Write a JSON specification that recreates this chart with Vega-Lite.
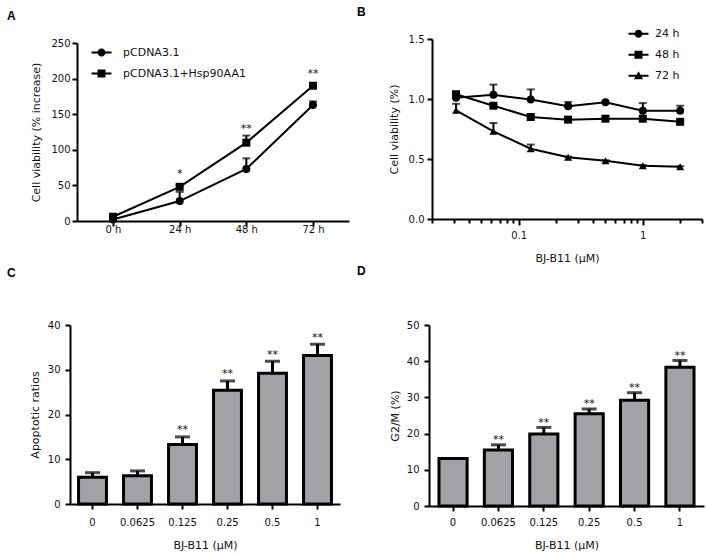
{
  "$schema": "https://vega.github.io/schema/vega-lite/v6.json",
  "background": "white",
  "padding": {"left": 7, "top": 6, "right": 2, "bottom": 2},
  "config": {
    "font": "DejaVu Sans",
    "view": {"stroke": null},
    "axis": {
      "domainColor": "black", "domainWidth": 2, "tickColor": "black", "tickWidth": 2, "tickSize": 5,
      "labelFont": "DejaVu Sans", "labelFontSize": 10, "labelColor": "#111111",
      "titleFont": "DejaVu Sans", "titleFontSize": 11, "titleFontWeight": "normal", "titleColor": "#111111",
      "grid": false
    },
    "title": {"anchor": "start", "frame": "group", "fontSize": 12, "fontWeight": "bold", "color": "black", "baseline": "alphabetic", "font": "Liberation Sans"},
    "legend": {"padding": 0, "labelFont": "DejaVu Sans", "labelFontSize": 11, "labelColor": "#111111", "symbolStrokeWidth": 0, "symbolOpacity": 1}
  },
  "bounds": "flush",
  "columns": 2,
  "spacing": {"row": 104, "column": 80},
  "concat": [
    {
      "width": 279, "height": 182,
      "title": {"text": "A", "dx": -63, "offset": 15},
      "data": {"values": [
        {"hours": 0, "series": "pCDNA3.1", "value": 2, "err": 3},
        {"hours": 24, "series": "pCDNA3.1", "value": 28, "err": 41},
        {"hours": 48, "series": "pCDNA3.1", "value": 73, "err": 88},
        {"hours": 72, "series": "pCDNA3.1", "value": 163, "err": 168},
        {"hours": 0, "series": "pCDNA3.1+Hsp90AA1", "value": 6, "err": 9},
        {"hours": 24, "series": "pCDNA3.1+Hsp90AA1", "value": 48, "err": 50},
        {"hours": 48, "series": "pCDNA3.1+Hsp90AA1", "value": 110, "err": 120},
        {"hours": 72, "series": "pCDNA3.1+Hsp90AA1", "value": 190, "err": 193}
      ]},
      "encoding": {
        "x": {"field": "hours", "type": "quantitative", "scale": {"domain": [-12.96, 84.96], "range": [7, 279], "nice": false, "zero": false},
              "axis": {"title": null, "values": [0, 24, 48, 72], "labelExpr": "datum.value + ' h'", "labelAngle": 0, "labelPadding": -1.5, "labelFlush": false, "labelOverlap": false}},
        "y": {"field": "value", "type": "quantitative", "scale": {"domain": [0, 250], "range": [182, 4], "nice": false},
              "axis": {"title": "Cell viability (% increase)", "values": [0, 50, 100, 150, 200, 250], "offset": -7, "labelPadding": 2, "titlePadding": 9}}
      },
      "layer": [
        {"mark": {"type": "line", "color": "black", "strokeWidth": 2}, "encoding": {"detail": {"field": "series"}}},
        {"mark": {"type": "rule", "color": "black", "strokeWidth": 2}, "encoding": {"y2": {"field": "err"}}},
        {"mark": {"type": "tick", "color": "black", "thickness": 2, "size": 8, "orient": "horizontal"}, "encoding": {"y": {"field": "err", "type": "quantitative"}}},
        {"mark": {"type": "point", "filled": true, "color": "black", "opacity": 1, "size": 64},
         "encoding": {"shape": {"field": "series", "type": "nominal", "scale": {"domain": ["pCDNA3.1", "pCDNA3.1+Hsp90AA1"], "range": ["circle", "square"]}, "legend": null}}},
        {"mark": {"type": "point", "filled": true, "color": "black", "opacity": 0},
         "encoding": {"shape": {"field": "series", "type": "nominal",
           "scale": {"domain": ["pCDNA3.1", "pCDNA3.1+Hsp90AA1"], "range": ["M-2.5,-0.25H2.5V0.25H-2.5Z M1,0A1,1,0,1,1,-1,0A1,1,0,1,1,1,0Z", "M-2.5,-0.25H2.5V0.25H-2.5Z M-1,-1H1V1H-1Z"]},
           "legend": {"orient": "none", "legendX": 26, "legendY": 8, "title": null, "symbolSize": 64, "symbolFillColor": "black", "labelOffset": 16, "rowPadding": 9}}}},
        {"data": {"values": [
           {"hours": 24, "sy": 62, "s": "*"},
           {"hours": 48, "sy": 125, "s": "**"},
           {"hours": 72, "sy": 202, "s": "**"}
         ]},
         "mark": {"type": "text", "fontSize": 11, "baseline": "alphabetic", "color": "#111111"},
         "encoding": {"y": {"field": "sy", "type": "quantitative"}, "text": {"field": "s"}}}
      ],
      "resolve": {"scale": {"shape": "independent"}}
    },
    {
      "width": 275, "height": 182,
      "title": {"text": "B", "dx": -72, "offset": 9},
      "data": {"values": [
        {"dose": 0.03125, "series": "24 h", "value": 1.01, "err": 1.01},
        {"dose": 0.0625, "series": "24 h", "value": 1.035, "err": 1.12},
        {"dose": 0.125, "series": "24 h", "value": 0.995, "err": 1.08},
        {"dose": 0.25, "series": "24 h", "value": 0.94, "err": 0.975},
        {"dose": 0.5, "series": "24 h", "value": 0.972, "err": 0.972},
        {"dose": 1, "series": "24 h", "value": 0.902, "err": 0.966},
        {"dose": 2, "series": "24 h", "value": 0.902, "err": 0.944},
        {"dose": 0.03125, "series": "48 h", "value": 1.04, "err": 1.045},
        {"dose": 0.0625, "series": "48 h", "value": 0.944, "err": 0.95},
        {"dose": 0.125, "series": "48 h", "value": 0.85, "err": 0.855},
        {"dose": 0.25, "series": "48 h", "value": 0.828, "err": 0.833},
        {"dose": 0.5, "series": "48 h", "value": 0.836, "err": 0.84},
        {"dose": 1, "series": "48 h", "value": 0.836, "err": 0.84},
        {"dose": 2, "series": "48 h", "value": 0.81, "err": 0.815},
        {"dose": 0.03125, "series": "72 h", "value": 0.905, "err": 0.96},
        {"dose": 0.0625, "series": "72 h", "value": 0.73, "err": 0.8},
        {"dose": 0.125, "series": "72 h", "value": 0.586, "err": 0.62},
        {"dose": 0.25, "series": "72 h", "value": 0.514, "err": 0.52},
        {"dose": 0.5, "series": "72 h", "value": 0.486, "err": 0.49},
        {"dose": 1, "series": "72 h", "value": 0.444, "err": 0.45},
        {"dose": 2, "series": "72 h", "value": 0.436, "err": 0.44}
      ]},
      "encoding": {
        "x": {"field": "dose", "type": "quantitative", "scale": {"type": "log", "domain": [0.02, 3], "range": [3, 273], "nice": false},
              "axis": {"title": "BJ-B11 (μM)", "values": [0.02, 0.03, 0.04, 0.05, 0.06, 0.07, 0.08, 0.09, 0.1, 0.2, 0.3, 0.4, 0.5, 0.6, 0.7, 0.8, 0.9, 1, 2, 3],
                       "format": "~g", "labelExpr": "datum.value == 0.1 || datum.value == 1 ? datum.label : ''", "labelOverlap": false, "labelFlush": false,
                       "tickSize": {"condition": {"test": "datum.value == 0.1 || datum.value == 1", "value": 6}, "value": 4},
                       "offset": -2, "labelPadding": 5, "titlePadding": 12}},
        "y": {"field": "value", "type": "quantitative", "scale": {"domain": [0, 1.5], "range": [180, 0], "nice": false},
              "axis": {"title": "Cell viability (%)", "values": [0, 0.5, 1, 1.5], "format": ".1f", "offset": -3, "labelPadding": 3, "titlePadding": 9}}
      },
      "layer": [
        {"mark": {"type": "line", "color": "black", "strokeWidth": 2}, "encoding": {"detail": {"field": "series"}}},
        {"mark": {"type": "rule", "color": "black", "strokeWidth": 2}, "encoding": {"y2": {"field": "err"}}},
        {"mark": {"type": "tick", "color": "black", "thickness": 2, "size": 8, "orient": "horizontal"}, "encoding": {"y": {"field": "err", "type": "quantitative"}}},
        {"mark": {"type": "point", "filled": true, "color": "black", "opacity": 1, "size": 64},
         "encoding": {"shape": {"field": "series", "type": "nominal", "scale": {"domain": ["24 h", "48 h", "72 h"], "range": ["circle", "square", "triangle-up"]}, "legend": null}}},
        {"mark": {"type": "point", "filled": true, "color": "black", "opacity": 0},
         "encoding": {"shape": {"field": "series", "type": "nominal",
           "scale": {"domain": ["24 h", "48 h", "72 h"], "range": ["M-2.5,-0.25H2.5V0.25H-2.5Z M1,0A1,1,0,1,1,-1,0A1,1,0,1,1,1,0Z", "M-2.5,-0.25H2.5V0.25H-2.5Z M-1,-1H1V1H-1Z", "M-2.5,-0.25H2.5V0.25H-2.5Z M0,-1.15L1.15,0.85H-1.15Z"]},
           "legend": {"orient": "none", "legendX": 204, "legendY": -10.7, "title": null, "symbolSize": 64, "symbolFillColor": "black", "labelOffset": 11, "rowPadding": 9}}}}
      ],
      "resolve": {"scale": {"shape": "independent"}}
    },
    {
      "width": 270, "height": 181,
      "title": {"text": "C", "dx": -63, "offset": 40},
      "data": {"values": [
        {"dose": "0", "value": 6.0, "err": 7.0, "star": ""},
        {"dose": "0.0625", "value": 6.3, "err": 7.4, "star": ""},
        {"dose": "0.125", "value": 13.3, "err": 15.0, "star": "**"},
        {"dose": "0.25", "value": 25.4, "err": 27.5, "star": "**"},
        {"dose": "0.5", "value": 29.2, "err": 31.9, "star": "**"},
        {"dose": "1", "value": 33.2, "err": 35.7, "star": "**"}
      ]},
      "encoding": {
        "x": {"field": "dose", "type": "nominal", "scale": {"domain": ["0", "0.0625", "0.125", "0.25", "0.5", "1"], "paddingInner": 0.38, "paddingOuter": 0.19},
              "axis": {"title": "BJ-B11 (μM)", "labelAngle": 0, "offset": -2, "labelPadding": 8, "titlePadding": 12}},
        "y": {"field": "value", "type": "quantitative", "scale": {"domain": [0, 40], "range": [179, 0], "nice": false},
              "axis": {"title": "Apoptotic ratios", "values": [0, 10, 20, 30, 40], "labelPadding": 5, "titlePadding": 7}}
      },
      "layer": [
        {"mark": {"type": "rule", "color": "black", "strokeWidth": 3}, "encoding": {"y2": {"field": "err"}}},
        {"mark": {"type": "tick", "color": "black", "thickness": 3, "size": 15, "orient": "horizontal"}, "encoding": {"y": {"field": "err", "type": "quantitative"}}},
        {"mark": {"type": "bar", "fill": "#a2a2a6", "stroke": "black", "strokeWidth": 3}},
        {"mark": {"type": "text", "fontSize": 11, "baseline": "alphabetic", "color": "#111111", "dy": -3.5}, "encoding": {"y": {"field": "err", "type": "quantitative"}, "text": {"field": "star"}}}
      ]
    },
    {
      "width": 275, "height": 181,
      "title": {"text": "D", "dx": -72, "offset": 42},
      "data": {"values": [
        {"dose": "0", "value": 13.1, "err": 13.1, "star": ""},
        {"dose": "0.0625", "value": 15.5, "err": 16.9, "star": "**"},
        {"dose": "0.125", "value": 19.9, "err": 21.7, "star": "**"},
        {"dose": "0.25", "value": 25.5, "err": 26.8, "star": "**"},
        {"dose": "0.5", "value": 29.2, "err": 31.3, "star": "**"},
        {"dose": "1", "value": 38.3, "err": 40.2, "star": "**"}
      ]},
      "encoding": {
        "x": {"field": "dose", "type": "nominal", "scale": {"domain": ["0", "0.0625", "0.125", "0.25", "0.5", "1"], "paddingInner": 0.38, "paddingOuter": 0.22},
              "axis": {"title": "BJ-B11 (μM)", "labelAngle": 0, "labelPadding": 6.5, "titlePadding": 12}},
        "y": {"field": "value", "type": "quantitative", "scale": {"domain": [0, 50], "nice": false},
              "axis": {"title": "G2/M (%)", "values": [0, 10, 20, 30, 40, 50], "labelPadding": 5, "titlePadding": 6}}
      },
      "layer": [
        {"mark": {"type": "rule", "color": "black", "strokeWidth": 3}, "encoding": {"y2": {"field": "err"}}},
        {"mark": {"type": "tick", "color": "black", "thickness": 3, "size": 15, "orient": "horizontal"}, "encoding": {"y": {"field": "err", "type": "quantitative"}}},
        {"mark": {"type": "bar", "fill": "#a2a2a6", "stroke": "black", "strokeWidth": 3}},
        {"mark": {"type": "text", "fontSize": 11, "baseline": "alphabetic", "color": "#111111", "dy": -1.5}, "encoding": {"y": {"field": "err", "type": "quantitative"}, "text": {"field": "star"}}}
      ]
    }
  ]
}
